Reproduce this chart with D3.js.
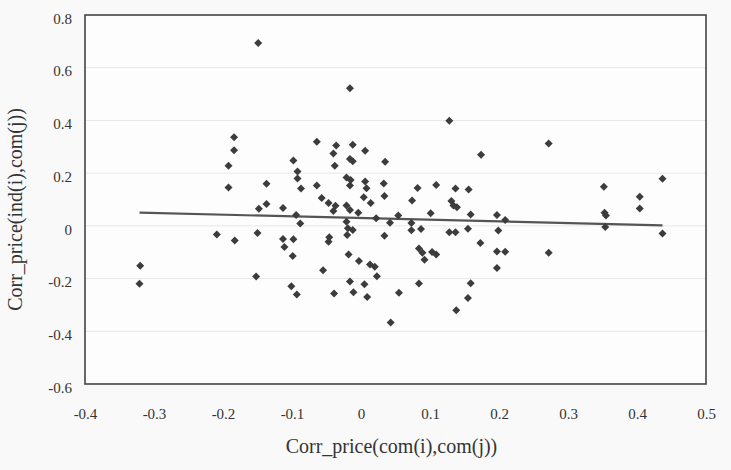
<!DOCTYPE html>
<html>
<head>
<meta charset="utf-8">
<script src="https://cdn.jsdelivr.net/npm/d3@7/dist/d3.min.js"></script>
<style>
  html, body { margin: 0; padding: 0; background: #f9f9f9; }
  svg { display: block; }
  text { font-family: "Liberation Serif", "Times New Roman", serif; fill: #333; }
</style>
</head>
<body>
<svg id="chart" width="731" height="470"></svg>
<script>
// ---- data ----
const xValues = [
  -0.149, -0.016, 0.128, 0.272, 0.174, -0.184, -0.184, -0.192, -0.192, -0.137,
  -0.137, -0.148, -0.113, -0.098, -0.092, -0.092, -0.087, -0.064, -0.036, -0.040,
  -0.012, 0.006, -0.016, -0.012, -0.038, 0.035, -0.064, -0.021, -0.015, -0.016,
  0.006, 0.008, 0.033, 0.034, 0.082, 0.004, 0.014, -0.057, -0.047, -0.037,
  -0.040, -0.021, -0.016, -0.004, -0.094, -0.088, 0.022, 0.042, 0.054, 0.073,
  0.073, -0.021, -0.019, -0.012, -0.020, 0.034, -0.046, -0.047, 0.109, 0.137,
  0.156, 0.074, 0.131, 0.134, 0.139, 0.101, 0.159, 0.197, 0.209, 0.087,
  0.128, 0.137, 0.155, 0.199, 0.173, 0.197, 0.209, 0.272, 0.197, 0.352,
  0.404, 0.404, 0.353, 0.355, 0.354, 0.437, 0.437, -0.209, -0.183, -0.150,
  -0.113, -0.111, -0.098, -0.099, -0.320, -0.321, -0.152, -0.101, -0.093, -0.055,
  -0.039, -0.018, -0.003, 0.013, 0.020, 0.023, -0.016, -0.011, 0.005, 0.009,
  0.043, 0.055, 0.084, 0.089, 0.092, 0.103, 0.109, 0.084, 0.159, 0.155,
  0.138
];
const yValues = [
  0.694, 0.522, 0.399, 0.312, 0.270, 0.336, 0.287, 0.228, 0.146, 0.160,
  0.083, 0.065, 0.068, 0.248, 0.206, 0.180, 0.142, 0.319, 0.305, 0.275,
  0.308, 0.285, 0.254, 0.245, 0.228, 0.243, 0.153, 0.183, 0.174, 0.153,
  0.168, 0.143, 0.161, 0.113, 0.144, 0.109, 0.087, 0.106, 0.087, 0.076,
  0.056, 0.077, 0.060, 0.050, 0.041, 0.009, 0.029, 0.012, 0.039, 0.011,
  -0.017, 0.016, -0.009, -0.016, -0.035, -0.038, -0.043, -0.060, 0.155, 0.142,
  0.138, 0.096, 0.094, 0.077, 0.071, 0.048, 0.043, 0.041, 0.022, -0.012,
  -0.024, -0.024, -0.011, -0.018, -0.065, -0.097, -0.098, -0.102, -0.160, 0.148,
  0.110, 0.066, 0.050, 0.039, -0.004, 0.179, -0.029, -0.033, -0.056, -0.027,
  -0.050, -0.080, -0.051, -0.114, -0.151, -0.220, -0.192, -0.229, -0.260, -0.168,
  -0.257, -0.109, -0.133, -0.147, -0.155, -0.191, -0.211, -0.252, -0.222, -0.270,
  -0.367, -0.254, -0.086, -0.102, -0.129, -0.099, -0.109, -0.219, -0.218, -0.274,
  -0.320
];
// fitted trend line (end points)
const trendX = [-0.321, 0.437];
const trendY = [0.050, 0.002];

const xTicks = [-0.4, -0.3, -0.2, -0.1, 0, 0.1, 0.2, 0.3, 0.4, 0.5];
const yTicks = [-0.6, -0.4, -0.2, 0, 0.2, 0.4, 0.6, 0.8];
const xTickLabels = ["-0.4", "-0.3", "-0.2", "-0.1", "0", "0.1", "0.2", "0.3", "0.4", "0.5"];
const yTickLabels = ["-0.6", "-0.4", "-0.2", "0", "0.2", "0.4", "0.6", "0.8"];
const xTitle = "Corr_price(com(i),com(j))";
const yTitle = "Corr_price(ind(i),com(j))";

// ---- layout ----
const pLeft = 85, pRight = 706, pTop = 15, pBottom = 384;
const svg = d3.select("#chart");

const x = d3.scaleLinear().domain([-0.4, 0.5]).range([pLeft, pRight]);
const y = d3.scaleLinear().domain([-0.6, 0.8]).range([pBottom, pTop]);

// plot background
svg.append("rect")
  .attr("x", pLeft).attr("y", pTop)
  .attr("width", pRight - pLeft).attr("height", pBottom - pTop)
  .attr("fill", "#fdfdfd");

// faint horizontal gridlines
svg.append("g")
  .selectAll("line")
  .data(yTicks.slice(1, -1))
  .join("line")
  .attr("x1", pLeft).attr("x2", pRight)
  .attr("y1", d => y(d)).attr("y2", d => y(d))
  .attr("stroke", "#e8e8e8").attr("stroke-width", 1);

// axes (labels only, no tick marks)
const xAxis = d3.axisBottom(x)
  .tickValues(xTicks)
  .tickFormat((d, i) => xTickLabels[i])
  .tickSize(0).tickPadding(24);
const gx = svg.append("g").attr("transform", `translate(0,${pBottom})`).call(xAxis);
gx.attr("font-family", null);
gx.select(".domain").remove();
gx.selectAll("text").attr("font-size", 15).attr("fill", "#333")
  .style("font-family", '"Liberation Serif", serif');

const yAxis = d3.axisLeft(y)
  .tickValues(yTicks)
  .tickFormat((d, i) => yTickLabels[i])
  .tickSize(0).tickPadding(13);
const gy = svg.append("g").attr("transform", `translate(${pLeft},0)`).call(yAxis);
gy.attr("font-family", null);
gy.select(".domain").remove();
gy.selectAll("text").attr("font-size", 15).attr("fill", "#333")
  .attr("dy", "0.55em")
  .style("font-family", '"Liberation Serif", serif');

// frame
svg.append("rect")
  .attr("x", pLeft).attr("y", pTop)
  .attr("width", pRight - pLeft).attr("height", pBottom - pTop)
  .attr("fill", "none").attr("stroke", "#444").attr("stroke-width", 1.6);

// trend line
const line = d3.line().x(d => x(d[0])).y(d => y(d[1]));
svg.append("path")
  .datum(trendX.map((v, i) => [v, trendY[i]]))
  .attr("d", line)
  .attr("fill", "none").attr("stroke", "#555").attr("stroke-width", 2.2);

// points (diamonds)
const diamond = d3.symbol().type(d3.symbolSquare).size(32);
svg.append("g")
  .selectAll("path")
  .data(xValues.map((v, i) => [v, yValues[i]]))
  .join("path")
  .attr("d", diamond)
  .attr("transform", d => `translate(${x(d[0])},${y(d[1])}) rotate(45)`)
  .attr("fill", "#3c3c3c");

// axis titles
svg.append("text")
  .attr("x", (pLeft + pRight) / 2 - 4).attr("y", 453)
  .attr("text-anchor", "middle").attr("font-size", 20)
  .text(xTitle);

svg.append("text")
  .attr("transform", `translate(22,${(pTop + pBottom) / 2 + 10}) rotate(-90)`)
  .attr("text-anchor", "middle").attr("font-size", 20)
  .text(yTitle);
</script>
</body>
</html>
